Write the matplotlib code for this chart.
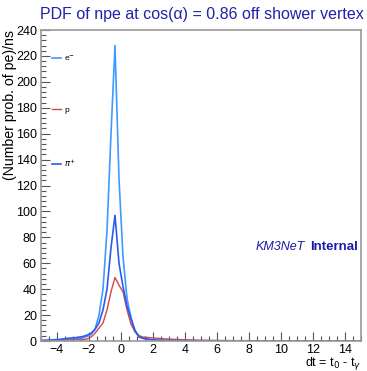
import matplotlib.pyplot as plt
from matplotlib.ticker import MultipleLocator

plt.rcParams['font.family'] = ['Liberation Sans', 'DejaVu Sans']

# bin centres (ns) and PDF values
dt = [-4.875, -4.375, -3.875, -3.375, -2.875, -2.625, -2.375, -2.125, -1.875, -1.625,
      -1.375, -1.125, -0.875, -0.625, -0.375, -0.125, 0.125, 0.375, 0.625, 0.875,
      1.125, 1.375, 1.625, 1.875, 2.375, 2.875, 3.875, 4.875, 6.875, 9.875, 12.875, 14.875]
pdf_e = [0.3, 0.4, 0.6, 1.0, 1.5, 2.0, 2.5, 3.5, 5, 9,
         20, 40, 85, 160, 228, 125, 65, 33, 18, 8,
         4, 2.5, 1.5, 1.0, 0.6, 0.4, 0.3, 0.2, 0.1, 0.1, 0.1, 0.1]
pdf_p = [0.2, 0.3, 0.4, 0.6, 0.8, 1.0, 1.2, 1.5, 3, 6,
         10, 14, 24, 38, 49, 43, 38, 24, 13, 7,
         4, 3, 2.8, 2.5, 2.0, 1.5, 1.0, 0.6, 0.3, 0.2, 0.1, 0.1]
pdf_pi = [0.5, 0.8, 1.2, 2.0, 2.5, 3.0, 3.5, 4.5, 6, 9,
          14, 24, 40, 72, 97, 60, 42, 27, 17, 8,
          3, 2, 1.5, 1.0, 0.6, 0.4, 0.3, 0.2, 0.1, 0.1, 0.1, 0.1]

fig = plt.figure(figsize=(3.67, 3.71), dpi=100)
ax = fig.add_axes([41 / 367, 30 / 371, 320 / 367, 311 / 371])

ax.plot(dt, pdf_e, color='#3d9bff', lw=1.2, label='e$^{-}$')
ax.plot(dt, pdf_p, color='#d04848', lw=1.0, label='p')
ax.plot(dt, pdf_pi, color='#2a5cf0', lw=1.2, label='$\\pi^{+}$')

ax.set_xlim(-5, 15)
ax.set_ylim(0, 240)
ax.xaxis.set_major_locator(MultipleLocator(2))
ax.xaxis.set_minor_locator(MultipleLocator(0.5))
ax.yaxis.set_major_locator(MultipleLocator(20))
ax.yaxis.set_minor_locator(MultipleLocator(4))
ax.tick_params(which='both', direction='in', top=False, right=False,
               color='#555555', labelsize=9)
ax.tick_params(which='major', length=6.5, width=0.8)
ax.tick_params(which='minor', length=3.5, width=0.8)
ax.tick_params(axis='y', pad=3)
ax.tick_params(axis='x', pad=2.5)
for s in ax.spines.values():
    s.set_color('#999999')
    s.set_linewidth(1.2)

ax.legend(loc='upper left', bbox_to_anchor=(0.034, 0.925), frameon=False,
          fontsize=6, handlelength=1.1, handletextpad=0.4,
          labelspacing=5.2, borderpad=0, borderaxespad=0)

fig.text(202 / 367, 1 - 14 / 371, 'PDF of npe at cos(\u03b1) = 0.86 off shower vertex',
         ha='center', va='center', fontsize=11.5, color='#2222a8')
fig.text(10 / 367, 1 - 30 / 371, '(Number prob. of pe)/ns', rotation=90,
         ha='center', va='top', fontsize=10.2)
fig.text(361 / 367, 7 / 371, 'dt = t$_0$ - t$_\\gamma$', ha='right', va='center', fontsize=9)

fig.text(305 / 367, 1 - 247 / 371, 'KM3NeT', ha='right', va='center',
         fontsize=9, style='italic', color='#1a1aa8')
fig.text(358 / 367, 1 - 247 / 371, 'Internal', ha='right', va='center',
         fontsize=9.5, weight='bold', color='#1a1aa8')

fig.savefig('out.png', dpi=100)
